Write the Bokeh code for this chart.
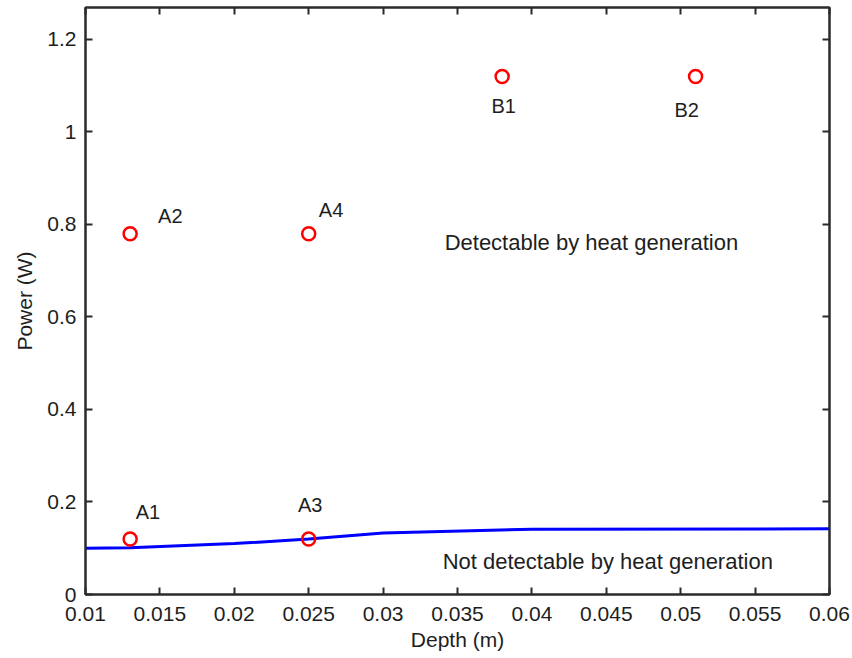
from bokeh.plotting import figure
from bokeh.models import ColumnDataSource, LinearAxis, FixedTicker, Range1d
from bokeh.core.properties import value
from bokeh.embed import file_html
from bokeh.resources import INLINE

# Detection threshold curve
depth_curve = [0.010, 0.013, 0.020, 0.025, 0.030, 0.040, 0.060]
power_curve = [0.100, 0.101, 0.110, 0.120, 0.133, 0.141, 0.142]

# Sample points
sample_names = ["A1", "A2", "A3", "A4", "B1", "B2"]
sample_depth = [0.013, 0.013, 0.025, 0.025, 0.038, 0.051]
sample_power = [0.12, 0.78, 0.12, 0.78, 1.12, 1.12]
label_x = [0.0142, 0.0157, 0.0251, 0.0265, 0.0381, 0.0504]
label_y = [0.179, 0.819, 0.194, 0.832, 1.057, 1.048]

# Region annotations
region_text = ["Detectable by heat generation", "Not detectable by heat generation"]
region_x = [0.0440, 0.0451]
region_y = [0.761, 0.072]

x_ticks = [0.01, 0.015, 0.02, 0.025, 0.03, 0.035, 0.04, 0.045, 0.05, 0.055, 0.06]
x_tick_labels = ["0.01", "0.015", "0.02", "0.025", "0.03", "0.035", "0.04",
                 "0.045", "0.05", "0.055", "0.06"]
y_ticks = [0, 0.2, 0.4, 0.6, 0.8, 1.0, 1.2]
y_tick_labels = ["0", "0.2", "0.4", "0.6", "0.8", "1", "1.2"]

FONT = "Liberation Sans"
AX = "#2b2b2b"
TXT = "#1e1e1e"

p = figure(width=852, height=658, output_backend="svg", toolbar_location=None,
           x_range=Range1d(0.01, 0.06), y_range=Range1d(0, 1.269),
           min_border_left=85, min_border_right=23, min_border_top=7,
           min_border_bottom=64, x_axis_label="Depth (m)", y_axis_label="Power (W)")
p.grid.visible = False
p.background_fill_color = "white"
p.border_fill_color = "white"
p.outline_line_color = AX
p.outline_line_width = 2

bottom_ax = p.below[0]
left_ax = p.left[0]
top_ax = LinearAxis()
right_ax = LinearAxis()
p.add_layout(top_ax, "above")
p.add_layout(right_ax, "right")

for ax in [bottom_ax, top_ax]:
    ax.ticker = FixedTicker(ticks=x_ticks)
    ax.major_label_overrides = dict(zip(x_ticks, x_tick_labels))
for ax in [left_ax, right_ax]:
    ax.ticker = FixedTicker(ticks=y_ticks)
    ax.major_label_overrides = dict(zip(y_ticks, y_tick_labels))

for ax in [bottom_ax, left_ax, top_ax, right_ax]:
    ax.major_tick_in = 7
    ax.major_tick_out = 0
    ax.minor_tick_line_color = None
    ax.major_tick_line_color = AX
    ax.major_tick_line_width = 2
    ax.axis_line_color = AX
    ax.axis_line_width = 2
    ax.major_label_text_font = FONT
    ax.major_label_text_font_size = "21px"
    ax.major_label_text_color = TXT
    ax.axis_label_text_font = FONT
    ax.axis_label_text_font_size = "21px"
    ax.axis_label_text_font_style = "normal"
    ax.axis_label_text_color = TXT

for ax in [top_ax, right_ax]:
    ax.major_label_text_font_size = "1px"
    ax.major_label_text_color = None
    ax.major_label_standoff = 0
    ax.axis_label = None

bottom_ax.major_label_standoff = 12
bottom_ax.axis_label_standoff = 4
left_ax.major_label_standoff = 9
left_ax.axis_label_standoff = 8

p.line(depth_curve, power_curve, line_color="#0000ff", line_width=3)

src = ColumnDataSource(dict(x=sample_depth, y=sample_power, name=sample_names,
                            lx=label_x, ly=label_y))
p.scatter("x", "y", source=src, marker="circle", size=13, fill_color=None,
          line_color="#ff0000", line_width=2.5)
p.text("lx", "ly", text="name", source=src, text_font=value(FONT),
       text_font_size="20px", text_color=TXT, text_align="center",
       text_baseline="alphabetic")

rsrc = ColumnDataSource(dict(x=region_x, y=region_y, t=region_text))
p.text("x", "y", text="t", source=rsrc, text_font=value(FONT),
       text_font_size="22px", text_color=TXT, text_align="center",
       text_baseline="alphabetic")

open("out.html", "w").write(file_html(p, INLINE))
